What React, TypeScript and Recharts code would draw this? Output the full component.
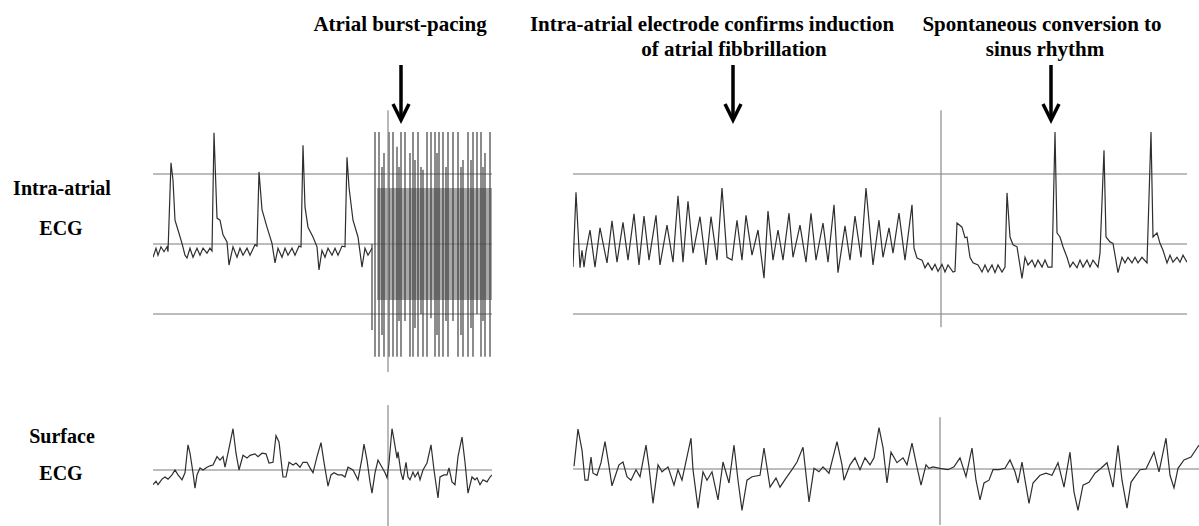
import { LineChart, Line, XAxis, YAxis, ReferenceLine, ReferenceArea } from "recharts"

type Pt = [number, number] // [time, amplitude]

// intra-atrial trace before burst pacing
const leftAtrial: Pt[] = [
  [0, -0.19], [3, -0.06], [5, -0.16], [8, -0.04], [11, -0.11], [14, -0.04], [15, -0.11], [18, 1.16], [20, 0.91],
  [22, 0.34], [25, 0.2], [29, 0.01], [32, -0.16], [34, -0.2], [37, -0.06], [40, -0.19], [44, -0.06], [47, -0.16],
  [50, -0.06], [54, -0.13], [57, -0.06], [59, -0.1], [61, 1.59], [64, 0.37], [67, 0.34], [70, 0.13], [74, 0.03],
  [76, -0.3], [80, -0.04], [84, -0.19], [87, -0.06], [90, -0.16], [94, -0.06], [97, -0.16], [102, -0.01], [104, -0.03],
  [106, 1.03], [109, 0.49], [114, 0.24], [119, 0.01], [122, -0.27], [125, -0.06], [129, -0.19], [132, -0.06],
  [135, -0.16], [139, -0.06], [142, -0.16], [146, -0.03], [148, -0.04], [150, 1.41], [152, 0.53], [155, 0.24],
  [160, 0.1], [164, -0.04], [166, -0.37], [169, -0.09], [172, -0.19], [175, -0.06], [179, -0.16], [182, -0.06],
  [185, -0.16], [189, -0.03], [192, -0.04], [194, 1.24], [196, 0.81], [200, 0.34], [205, 0.1], [209, -0.33],
  [212, -0.06], [215, -0.16], [217, -0.11], [219, -0.06],
]

// burst-pacing strokes: [time, high, low]
const burstStrokes: [number, number, number][] = [
  [219, 0, -1.23], [222, 1.6, -1.61], [226, 1.6, -1.61], [229, 1.1, -1.3], [231, 1.3, -1.61], [236, 1.6, -1.61],
  [240, 1.6, -1.61], [244, 1.39, -1.61], [246, 1.1, -1.1], [248, 1.6, -1.61], [252, 1.6, -1.1], [257, 1.3, -1.61],
  [260, 1.6, -1.61], [262, 1.2, -1.2], [265, 1.6, -1.61], [268, 1.1, -1.0], [270, 1.06, -1.61], [274, 1.6, -1.61],
  [278, 1.6, -1.06], [282, 1.6, -1.61], [284, 1.3, -1.3], [286, 1.6, -1.61], [290, 1.6, -1.61], [293, 1.1, -1.1],
  [295, 1.6, -1.61], [300, 1.6, -1.1], [305, 1.6, -1.61], [308, 1.1, -1.3], [310, 1.2, -1.61], [315, 1.6, -1.61],
  [318, 1.2, -1.2], [320, 1.6, -1.61], [324, 1.6, -1.0], [328, 1.6, -1.61], [330, 1.1, -1.1], [332, 1.3, -1.61],
  [337, 1.6, -1.61],
]
const burstBand = { start: 224, end: 339, high: 0.8, low: -0.8 }

const leftSurface: Pt[] = [
  [0, -0.21], [3, -0.16], [5, -0.21], [9, -0.13], [12, -0.1], [15, -0.13], [19, -0.07], [22, 0], [25, -0.07],
  [29, -0.14], [32, -0.04], [35, 0.36], [37, 0.24], [40, -0.04], [42, -0.26], [44, -0.07], [47, 0.03], [50, 0],
  [54, 0.04], [57, 0.06], [60, 0.07], [64, 0.19], [67, 0.14], [70, 0.19], [72, 0.04], [75, 0.24], [80, 0.59],
  [83, 0.24], [86, 0], [90, 0.21], [94, 0.17], [97, 0.21], [102, 0.23], [105, 0.19], [109, 0.24], [113, 0.23],
  [116, 0.1], [120, 0.11], [123, 0.49], [126, 0.4], [130, -0.1], [133, -0.1], [136, 0.11], [140, 0.07], [143, 0.1],
  [147, 0.04], [150, 0.11], [154, 0.11], [157, 0.03], [160, -0.04], [164, 0.19], [168, 0.39], [171, 0.11],
  [175, -0.23], [178, -0.07], [181, -0.04], [185, -0.07], [189, -0.07], [192, -0.1], [195, 0.04], [200, 0],
  [205, -0.14], [209, 0.17], [211, 0.37], [214, 0.14], [217, -0.17], [219, -0.33], [222, -0.04], [225, 0.14],
  [229, 0.04], [232, -0.04], [234, -0.11], [236, 0.1], [239, 0.59], [241, 0.43], [244, 0.17], [245, 0.26],
  [248, -0.04], [250, -0.14], [253, 0.11], [255, -0.1], [257, -0.14], [260, -0.03], [262, -0.1], [265, -0.03],
  [267, -0.14], [270, 0], [274, 0.1], [278, 0.36], [281, 0], [285, -0.4], [287, -0.1], [291, -0.07], [294, -0.07],
  [296, 0.03], [299, -0.17], [302, -0.21], [305, 0.19], [309, 0.47], [312, 0.11], [315, -0.33], [319, -0.1],
  [322, -0.14], [324, -0.11], [327, -0.21], [330, -0.14], [334, -0.17], [337, -0.1], [339, -0.07],
]

// intra-atrial: fibrillation then conversion to sinus rhythm
const rightAtrial: Pt[] = [
  [0, -0.33], [3, 0.74], [7, -0.34], [9, -0.09], [11, -0.33], [13, -0.11], [17, 0.2], [22, -0.33], [27, 0.23],
  [34, -0.27], [39, 0.33], [44, -0.26], [50, 0.31], [55, -0.23], [61, 0.43], [66, -0.3], [71, 0.4], [76, -0.23],
  [83, 0.41], [87, -0.3], [94, 0.27], [100, -0.26], [105, 0.69], [110, -0.26], [115, 0.61], [120, -0.13],
  [127, 0.39], [133, -0.3], [138, 0.39], [144, -0.23], [149, 0.8], [154, -0.19], [159, -0.23], [164, 0.34],
  [169, -0.23], [173, 0.41], [179, -0.16], [185, 0.2], [191, -0.49], [195, 0.47], [200, -0.23], [205, 0.2],
  [210, -0.23], [216, 0.44], [220, -0.19], [227, 0.27], [233, -0.26], [238, 0.44], [243, -0.23], [250, 0.3],
  [255, -0.26], [261, 0.56], [265, -0.41], [272, 0.26], [277, -0.23], [282, 0.4], [288, -0.19], [293, 0.8],
  [300, -0.3], [306, 0.34], [310, -0.19], [316, 0.23], [320, -0.13], [326, 0.44], [332, -0.23], [339, 0.56],
  [341, -0.06], [344, -0.2], [349, -0.23], [352, -0.34], [355, -0.27], [359, -0.37], [362, -0.29], [365, -0.39],
  [369, -0.29], [372, -0.4], [375, -0.3], [380, -0.4], [382, -0.39], [384, 0.3], [389, 0.24], [392, 0.09],
  [394, 0.1], [397, -0.19], [400, -0.27], [405, -0.3], [409, -0.4], [412, -0.3], [415, -0.4], [419, -0.3],
  [422, -0.41], [425, -0.3], [429, -0.4], [432, -0.33], [434, 0.73], [437, 0.1], [440, -0.01], [444, -0.04],
  [449, -0.49], [452, -0.19], [455, -0.3], [459, -0.23], [462, -0.33], [465, -0.23], [469, -0.33], [472, -0.23],
  [475, -0.33], [479, -0.33], [482, 1.6], [484, 0.16], [487, 0.1], [490, -0.04], [494, -0.19], [497, -0.33],
  [500, -0.26], [504, -0.34], [507, -0.23], [510, -0.33], [514, -0.23], [517, -0.33], [520, -0.23], [525, -0.33],
  [527, -0.13], [531, 1.34], [533, 0.1], [537, 0.03], [540, 0.01], [545, -0.41], [549, -0.19], [552, -0.27],
  [555, -0.19], [559, -0.27], [562, -0.19], [565, -0.27], [569, -0.19], [574, -0.27], [578, 1.6], [580, 0.1],
  [584, 0.16], [587, 0.01], [590, -0.09], [594, -0.27], [597, -0.16], [600, -0.26], [604, -0.19], [607, -0.26],
  [610, -0.16], [614, -0.26],
]

const rightSurface: Pt[] = [
  [1, 0.04], [5, 0.57], [9, 0.27], [12, -0.16], [15, -0.16], [18, 0.17], [20, -0.06], [24, -0.09], [28, 0.09],
  [32, 0.39], [35, 0.13], [39, -0.24], [42, -0.11], [46, 0.06], [50, 0.1], [54, -0.11], [58, -0.16], [63, -0.01],
  [67, -0.11], [73, 0.34], [76, 0.03], [80, -0.49], [85, 0.06], [89, -0.04], [95, 0.03], [101, -0.23], [105, -0.01],
  [109, -0.16], [118, 0.44], [120, -0.01], [125, -0.56], [130, -0.04], [134, -0.16], [139, -0.04], [145, -0.44],
  [150, 0.1], [156, -0.2], [161, 0.34], [165, -0.16], [169, -0.59], [174, -0.16], [179, -0.11], [187, -0.09],
  [191, 0.3], [197, -0.26], [203, -0.13], [207, -0.26], [213, -0.13], [219, -0.01], [224, 0.1], [230, 0.31],
  [236, -0.47], [241, 0.01], [246, -0.04], [250, 0.03], [256, -0.06], [264, 0.39], [269, 0.06], [271, -0.16],
  [277, 0.06], [282, 0.16], [287, -0.01], [292, 0.16], [297, 0.06], [301, 0.16], [306, 0.59], [310, 0.31],
  [314, -0.2], [318, 0.24], [324, 0.09], [330, 0.16], [334, 0.06], [339, 0.37], [343, 0.09], [348, -0.23],
  [353, 0.06], [356, 0.01], [360, 0.03], [367, 0.01], [375, -0.01], [381, 0.03], [387, 0.16], [393, -0.11],
  [399, 0.3], [403, -0.16], [407, -0.44], [411, -0.2], [416, -0.16], [420, -0.01], [426, -0.01], [432, 0.01],
  [437, 0.13], [442, -0.04], [445, -0.2], [449, 0.1], [452, -0.16], [456, -0.49], [460, -0.2], [467, -0.09],
  [473, -0.06], [479, -0.09], [485, 0.09], [491, -0.26], [497, 0.24], [501, -0.33], [505, -0.59], [510, -0.23],
  [516, -0.19], [522, -0.06], [528, 0.01], [534, 0.09], [540, -0.26], [545, 0.34], [549, -0.16], [554, -0.56],
  [558, -0.19], [562, -0.11], [567, -0.01], [573, 0], [581, 0.24], [586, -0.04], [593, 0.44], [597, -0.09],
  [601, -0.27], [605, 0.01], [611, 0.13], [618, 0.17], [624, 0.3], [626, 0.34],
]

const atrialGrid = [1, 0, -1]
const surfaceGrid = [0]

const toRows = (pts: Pt[]) => pts.map(([t, mv]) => ({ t, mv }))

const TRACE = "#2e2e2e"
const GRID = "#7a7a7a"
const SERIF = "Liberation Serif"

const box = (left: number, top: number): React.CSSProperties => ({ position: "absolute", left, top })

function Arrow({ x }: { x: number }) {
  return (
    <g stroke="#000" strokeWidth={3.5} fill="none">
      <line x1={x} y1={65} x2={x} y2={119} />
      <polyline points={`${x - 8},${104} ${x},${120} ${x + 8},${104}`} strokeLinejoin="miter" />
    </g>
  )
}

function Label({ x, y, size, children }: { x: number; y: number; size: number; children: string }) {
  return (
    <text x={x} y={y} fontFamily={SERIF} fontWeight="bold" fontSize={size} fill="#000" textAnchor="middle">
      {children}
    </text>
  )
}

export default function App() {
  return (
    <div style={{ position: "absolute", left: 0, top: 0, width: 1199, height: 526, background: "#fff", overflow: "hidden" }}>
      {/* left intra-atrial */}
      <div style={box(153, 104)}>
        <LineChart width={339} height={280} data={toRows(leftAtrial)} margin={{ top: 0, right: 0, bottom: 0, left: 0 }}>
          <XAxis type="number" dataKey="t" domain={[0, 339]} hide />
          <YAxis type="number" domain={[-2, 2]} hide />
          {atrialGrid.map((y) => (
            <ReferenceLine key={y} y={y} stroke={GRID} strokeWidth={1} />
          ))}
          <ReferenceArea
            x1={burstBand.start}
            x2={burstBand.end}
            y1={burstBand.low}
            y2={burstBand.high}
            fill="#a8a8a8"
            fillOpacity={1}
            stroke="none"
          />
          {burstStrokes.map(([t, hi, lo]) => (
            <ReferenceLine
              key={t}
              segment={[{ x: t, y: hi }, { x: t, y: lo }]}
              stroke={TRACE}
              strokeWidth={1.1}
            />
          ))}
          <ReferenceLine segment={[{ x: 235, y: 1.91 }, { x: 235, y: -1.83 }]} stroke="#8a8a8a" strokeWidth={1.2} />
          <Line type="linear" dataKey="mv" stroke={TRACE} strokeWidth={1.2} dot={false} isAnimationActive={false} />
        </LineChart>
      </div>

      {/* left surface */}
      <div style={box(153, 386)}>
        <LineChart width={339} height={140} data={toRows(leftSurface)} margin={{ top: 0, right: 0, bottom: 0, left: 0 }}>
          <XAxis type="number" dataKey="t" domain={[0, 339]} hide />
          <YAxis type="number" domain={[-0.8, 1.2]} hide />
          {surfaceGrid.map((y) => (
            <ReferenceLine key={y} y={y} stroke={GRID} strokeWidth={1} />
          ))}
          <ReferenceLine segment={[{ x: 235, y: 0.93 }, { x: 235, y: -0.8 }]} stroke="#8a8a8a" strokeWidth={1.2} />
          <Line type="linear" dataKey="mv" stroke={TRACE} strokeWidth={1.2} dot={false} isAnimationActive={false} />
        </LineChart>
      </div>

      {/* right intra-atrial */}
      <div style={box(573, 104)}>
        <LineChart width={614} height={280} data={toRows(rightAtrial)} margin={{ top: 0, right: 0, bottom: 0, left: 0 }}>
          <XAxis type="number" dataKey="t" domain={[0, 614]} hide />
          <YAxis type="number" domain={[-2, 2]} hide />
          {atrialGrid.map((y) => (
            <ReferenceLine key={y} y={y} stroke={GRID} strokeWidth={1} />
          ))}
          <ReferenceLine segment={[{ x: 368, y: 1.91 }, { x: 368, y: -1.19 }]} stroke="#8a8a8a" strokeWidth={1.2} />
          <Line type="linear" dataKey="mv" stroke={TRACE} strokeWidth={1.2} dot={false} isAnimationActive={false} />
        </LineChart>
      </div>

      {/* right surface */}
      <div style={box(573, 385)}>
        <LineChart width={626} height={140} data={toRows(rightSurface)} margin={{ top: 0, right: 0, bottom: 0, left: 0 }}>
          <XAxis type="number" dataKey="t" domain={[0, 626]} hide />
          <YAxis type="number" domain={[-0.8, 1.2]} hide />
          {surfaceGrid.map((y) => (
            <ReferenceLine key={y} y={y} stroke={GRID} strokeWidth={1} />
          ))}
          <ReferenceLine segment={[{ x: 367, y: 0.74 }, { x: 367, y: -0.8 }]} stroke="#8a8a8a" strokeWidth={1.2} />
          <Line type="linear" dataKey="mv" stroke={TRACE} strokeWidth={1.2} dot={false} isAnimationActive={false} />
        </LineChart>
      </div>

      {/* annotations */}
      <svg width={1199} height={526} style={{ position: "absolute", left: 0, top: 0, pointerEvents: "none" }}>
        <Label x={400} y={31} size={21}>Atrial burst-pacing</Label>
        <Label x={712} y={31} size={21}>Intra-atrial electrode confirms induction</Label>
        <Label x={734} y={56} size={21}>of atrial fibbrillation</Label>
        <Label x={1042} y={31} size={21}>Spontaneous conversion to</Label>
        <Label x={1045} y={56} size={21}>sinus rhythm</Label>
        <Label x={62} y={195} size={20}>Intra-atrial</Label>
        <Label x={61} y={235} size={20}>ECG</Label>
        <Label x={62} y={443} size={20}>Surface</Label>
        <Label x={61} y={480} size={20}>ECG</Label>
        <Arrow x={401} />
        <Arrow x={733} />
        <Arrow x={1051} />
      </svg>
    </div>
  )
}
